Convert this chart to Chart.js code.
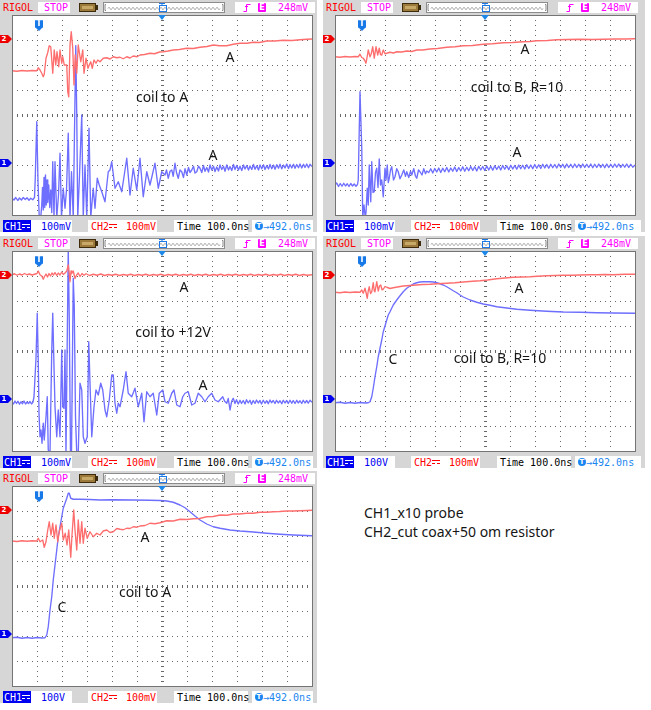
<!DOCTYPE html>
<html>
<head>
<meta charset="utf-8">
<script src="https://cdn.jsdelivr.net/npm/chart.js@4.4.1/dist/chart.umd.min.js"></script>
<style>
  html, body { margin: 0; padding: 0; background: #fff; }
  body { width: 651px; height: 710px; position: relative; overflow: hidden; }
  .scope { position: absolute; height: 232px; background: #d6d6d6; }
  .scope > canvas { position: absolute; left: 0; top: 14px; }
  .t { position: absolute; font: 10px/11px "DejaVu Sans Mono", monospace; white-space: nowrap; }
  .box { position: absolute; background: #fff; }
  .rigol { left: 3px; top: 2px; color: #f00; }
  .stop { left: 38px; top: 2px; width: 32px; height: 11px; }
  .stop span { left: 6px; top: 0; color: #f0f; }
  .batt { position: absolute; left: 79px; top: 3px; width: 17px; height: 9px; box-sizing: border-box;
          border: 1px solid #3e2c0c; background: #9c7a3c; }
  .batt i { position: absolute; left: 2px; top: 2px; width: 11px; height: 3px; background: #c8a866; }
  .nub { position: absolute; left: 96px; top: 5px; width: 2px; height: 5px; background: #3e2c0c; }
  .wave { left: 103px; top: 2px; width: 122px; height: 11px; box-sizing: border-box; border: 1px solid #8c8c8c; }
  .wave svg { position: absolute; left: 0; top: 0; }
  .trig { left: 235px; top: 2px; width: 80px; height: 11px; }
  .trig svg { position: absolute; left: 8px; top: 1px; }
  .ebox { position: absolute; left: 23px; top: 1px; width: 8px; height: 9px; background: #f0f; color: #fff;
          font: bold 8px/9px "DejaVu Sans", sans-serif; text-align: center; border-radius: 1px; }
  .tv { left: 43px; top: 0; color: #f0f; }
  .fb { top: 220px; height: 12px; }
  .fb .t { top: 1px; }
  .f1 { left: 3px; width: 69px; }
  .ch1tag { position: absolute; left: 0; top: 0; width: 28px; height: 12px; background: #0000f0; }
  .ch1tag .t { left: 1px; color: #fff; }
  .dc { position: absolute; top: 4px; width: 8px; height: 2px; box-sizing: content-box; }
  .ch1tag .dc { left: 19px; border-top: 1px solid #fff; border-bottom: 1px dashed #fff; }
  .v1 { left: 38px; color: #0000f0; }
  .f2 { left: 88px; width: 69px; }
  .f2 .c2 { left: 3px; color: #f00; }
  .f2 .dc { left: 21px; border-top: 1px solid #f00; border-bottom: 1px dashed #f00; }
  .v2 { left: 38px; color: #f00; }
  .f3 { left: 174px; width: 74px; }
  .f3 .t { left: 3px; color: #000; }
  .f4 { left: 252px; }
  .tc { position: absolute; left: 3px; top: 2px; width: 8px; height: 8px; border-radius: 50%; background: #1a86f0; color: #fff;
        font: bold 7px/8px "DejaVu Sans", sans-serif; text-align: center; }
  .f4 .t { left: 11px; color: #1a86f0; }
  .chm { position: absolute; left: 0; width: 8px; height: 8px; color: #fff; font: bold 7px/8px "DejaVu Sans", sans-serif; text-align: center; }
  .chm::after { content: ""; position: absolute; left: 8px; top: 0; border-top: 4px solid transparent; border-bottom: 4px solid transparent; border-left: 4px solid; }
  .chm.c1 { background: #0000ee; } .chm.c1::after { border-left-color: #0000ee; }
  .chm.c2 { background: #ee0000; } .chm.c2::after { border-left-color: #ee0000; }
  .tmk { position: absolute; width: 8px; height: 8px; background: #1778e8; color: #fff; border-radius: 1px;
         font: bold 8px/8px "DejaVu Sans", sans-serif; text-align: center; }
  .tmk::after { content: ""; position: absolute; left: 1px; top: 8px; border-left: 3px solid transparent; border-right: 3px solid transparent; border-top: 3px solid #1778e8; }
  .cmk { position: absolute; width: 0; height: 0; border-left: 4px solid transparent; border-right: 4px solid transparent; border-top: 5px solid #1e88e8; }
  .note { position: absolute; font: 14px/16px "Noto Sans", sans-serif; color: #151515; white-space: nowrap; transform: translate(-50%, -50%); }
  .legend { position: absolute; left: 364px; top: 503px; font: 14px/19px "Noto Sans", sans-serif; color: #151515; white-space: nowrap; }
</style>
</head>
<body>
<div class="legend">CH1_x10 probe<br>CH2_cut coax+50 om resistor</div>
<script>
// time axis in ns (100 ns/div, 12 div), vertical axis in divisions (8 div)
const timeMin = -600, timeMax = 600;
const divMin = -4, divMax = 4;
const trigPos = -492;
const ch2Offset = 3.04, ch1Offset = -1.93;

const ch1Scales = ["100mV", "100mV", "100mV", "100V", "100V"];
const ch2Scale = "100mV";
const timeBase = "100.0ns";
const trigDelay = "492.0ns";
const trigLevel = "248mV";

// panel 1: coil to A
const p1Ch2 = [[-600,1.77],[-580,1.75],[-560,1.78],[-540,1.76],[-520,1.78],[-501,1.77],[-495,1.89],[-488,1.8],[-481,1.67],[-475,1.53],[-471,1.63],[-464,2.27],[-457,2.5],[-451,2.77],[-445,2.73],[-437,1.67],[-431,2.6],[-425,2.0],[-420,2.53],[-413,1.93],[-408,2.6],[-401,2.07],[-397,2.33],[-391,2.0],[-381,2.0],[-377,0.93],[-373,0.73],[-368,2.8],[-363,3.33],[-357,2.67],[-352,1.2],[-347,2.4],[-341,1.67],[-335,2.8],[-325,2.13],[-317,2.6],[-312,1.67],[-304,2.27],[-296,1.87],[-291,2.0],[-285,2.13],[-279,1.87],[-272,2.2],[-264,2.07],[-257,2.2],[-248,2.13],[-235,2.27],[-221,2.29],[-208,2.24],[-195,2.33],[-181,2.29],[-168,2.31],[-155,2.25],[-141,2.33],[-128,2.28],[-115,2.36],[-100,2.33],[-88,2.4],[-70,2.42],[-48,2.47],[-30,2.45],[-10,2.52],[5,2.53],[25,2.56],[45,2.6],[70,2.62],[99,2.67],[125,2.66],[152,2.71],[180,2.74],[205,2.8],[230,2.77],[259,2.77],[285,2.83],[312,2.87],[340,2.87],[365,2.91],[390,2.9],[419,2.96],[450,2.96],[485,2.99],[520,2.98],[552,3.01],[580,3.03],[600,3.04]];
const p1Ch1 = [[-600,-3.33],[-592,-3.4],[-585,-3.3],[-577,-3.42],[-570,-3.32],[-562,-3.4],[-555,-3.3],[-547,-3.38],[-540,-3.31],[-532,-3.41],[-525,-3.33],[-517,-3.39],[-510,-3.3],[-507,-2.53],[-501,-0.27],[-496,-2.67],[-491,-4.1],[-485,-4.1],[-481,-3.6],[-478,-2.9],[-475,-3.8],[-472,-2.5],[-469,-3.7],[-466,-2.4],[-463,-3.6],[-460,-2.6],[-457,-3.5],[-453,-2.8],[-449,-3.7],[-445,-3.0],[-441,-3.9],[-437,-1.87],[-432,-4.1],[-428,-1.87],[-421,-4.1],[-414,-3.2],[-408,-1.53],[-402,-4.1],[-395,-2.93],[-388,-3.73],[-382,-3.0],[-375,-0.73],[-368,-4.1],[-362,-2.27],[-355,-4.1],[-345,2.77],[-341,0],[-337,-4.1],[-331,-2.67],[-321,0],[-315,-4.1],[-308,-2.0],[-301,-4.1],[-292,-0.53],[-285,-4.1],[-275,-2.93],[-268,-3.73],[-259,-2.53],[-251,-2.8],[-241,-3.07],[-228,-3.47],[-215,-2.27],[-208,-2.2],[-201,-1.87],[-188,-2.93],[-175,-2.67],[-161,-3.07],[-141,-1.73],[-128,-3.2],[-115,-2.13],[-101,-3.0],[-88,-1.73],[-75,-3.27],[-61,-2.27],[-48,-2.8],[-28,-1.93],[-15,-2.93],[-1,-2.27],[12,-2.4],[18,-2.2],[25,-2.53],[32,-2.25],[39,-2.2],[45,-2.45],[52,-1.93],[58,-2.3],[65,-2.53],[72,-2.2],[79,-2.27],[86,-2.5],[92,-2.15],[99,-2.4],[106,-2.1],[112,-2.3],[119,-2.2],[126,-2.05],[132,-2.32],[139,-2.27],[146,-2.05],[152,-2.13],[159,-2.3],[166,-2.02],[172,-2.25],[179,-2.1],[186,-2.28],[192,-2.0],[199,-2.2],[206,-2.05],[212,-2.26],[219,-2.08],[226,-2.24],[232,-2.0],[239,-2.18],[246,-2.05],[252,-2.25],[259,-2.0],[266,-2.2],[272,-2.06],[279,-2.22],[286,-1.98],[292,-2.18],[299,-2.02],[306,-2.2],[312,-2.05],[319,-2.22],[326,-2.0],[332,-2.16],[339,-2.02],[346,-2.2],[352,-2.04],[359,-2.18],[366,-1.98],[372,-2.17],[379,-2.03],[386,-2.2],[392,-2.0],[399,-2.15],[406,-1.99],[412,-2.18],[419,-2.02],[426,-2.16],[432,-1.98],[439,-2.15],[446,-2.0],[452,-2.17],[459,-1.99],[466,-2.13],[472,-1.97],[479,-2.15],[486,-2.0],[492,-2.12],[499,-1.96],[506,-2.14],[512,-1.98],[519,-2.12],[526,-1.97],[532,-2.13],[539,-1.98],[546,-2.11],[552,-1.96],[559,-2.12],[566,-1.97],[572,-2.1],[579,-1.96],[586,-2.11],[592,-1.97],[600,-2.06]];
const p1Notes = [["A", 272, 2.32], ["coil to A", 0, 0.72], ["A", 204, -1.6]];

// panel 2: coil to B, R=10
const p2Ch2 = [[-600,2.33],[-580,2.31],[-560,2.34],[-540,2.32],[-520,2.34],[-507,2.33],[-500,2.43],[-493,2.3],[-487,2.27],[-482,2.2],[-476,2.07],[-471,2.35],[-467,2.6],[-460,2.33],[-455,2.45],[-449,2.73],[-443,2.27],[-436,2.73],[-429,2.4],[-423,2.67],[-418,2.42],[-413,2.4],[-407,2.6],[-400,2.45],[-393,2.47],[-380,2.51],[-366,2.48],[-353,2.53],[-333,2.52],[-313,2.56],[-293,2.54],[-273,2.6],[-250,2.6],[-220,2.64],[-190,2.66],[-153,2.71],[-120,2.73],[-87,2.77],[-50,2.78],[-7,2.83],[30,2.85],[73,2.89],[110,2.9],[153,2.93],[180,2.94],[207,2.97],[250,2.98],[287,3.01],[330,3.02],[380,3.03],[430,3.02],[473,3.03],[520,3.04],[560,3.04],[600,3.05]];
const p2Ch1 = [[-600,-2.8],[-593,-2.72],[-586,-2.86],[-579,-2.74],[-572,-2.85],[-565,-2.73],[-558,-2.84],[-551,-2.75],[-544,-2.86],[-537,-2.74],[-530,-2.84],[-523,-2.76],[-516,-2.85],[-510,-2.78],[-507,-2.6],[-500,0.93],[-493,-1.33],[-489,-4.1],[-484,-3.6],[-479,-4.1],[-476,-3.9],[-471,-2.93],[-467,-3.6],[-463,-2.0],[-457,-3.47],[-453,-1.87],[-448,-3.1],[-443,-3.07],[-438,-2.3],[-433,-2.13],[-428,-2.9],[-423,-1.76],[-418,-2.8],[-413,-2.6],[-407,-3.27],[-400,-2.13],[-396,-2.6],[-391,-2.0],[-387,-2.7],[-383,-2.53],[-378,-2.2],[-373,-2.07],[-366,-2.6],[-360,-2.47],[-353,-2.15],[-347,-2.27],[-340,-2.55],[-333,-2.4],[-325,-2.2],[-318,-2.45],[-313,-2.27],[-305,-2.5],[-298,-2.25],[-293,-2.4],[-285,-2.15],[-278,-2.45],[-273,-2.53],[-266,-2.2],[-260,-2.27],[-252,-2.4],[-245,-2.15],[-238,-2.35],[-233,-2.24],[-225,-2.3],[-217,-2.15],[-209,-2.32],[-201,-2.14],[-193,-2.28],[-185,-2.12],[-177,-2.3],[-169,-2.13],[-161,-2.27],[-153,-2.1],[-145,-2.28],[-137,-2.12],[-129,-2.25],[-121,-2.08],[-113,-2.26],[-105,-2.1],[-97,-2.24],[-89,-2.07],[-81,-2.25],[-73,-2.09],[-65,-2.23],[-57,-2.06],[-49,-2.22],[-41,-2.07],[-33,-2.24],[-25,-2.05],[-17,-2.2],[-9,-2.06],[-1,-2.22],[7,-2.04],[15,-2.2],[23,-2.05],[31,-2.21],[39,-2.03],[47,-2.18],[55,-2.04],[63,-2.2],[71,-2.02],[79,-2.17],[87,-2.03],[95,-2.19],[103,-2.01],[111,-2.16],[119,-2.02],[127,-2.17],[135,-2.0],[143,-2.15],[151,-2.01],[159,-2.16],[167,-1.99],[175,-2.14],[183,-2.0],[191,-2.15],[199,-1.98],[207,-2.13],[215,-1.99],[223,-2.14],[231,-1.97],[239,-2.12],[247,-1.98],[255,-2.13],[263,-1.97],[271,-2.11],[279,-1.98],[287,-2.12],[295,-1.96],[303,-2.1],[311,-1.97],[319,-2.12],[327,-1.96],[335,-2.1],[343,-1.97],[351,-2.11],[359,-1.96],[367,-2.1],[375,-1.97],[383,-2.11],[391,-1.96],[399,-2.1],[407,-1.97],[415,-2.1],[423,-1.96],[431,-2.11],[439,-1.97],[447,-2.1],[455,-1.96],[463,-2.1],[471,-1.97],[479,-2.11],[487,-1.96],[495,-2.1],[503,-1.97],[511,-2.1],[519,-1.96],[527,-2.09],[535,-1.96],[543,-2.1],[551,-1.97],[559,-2.09],[567,-1.96],[575,-2.1],[583,-1.97],[591,-2.09],[600,-2.0]];
const p2Notes = [["A", 160, 2.64], ["coil to B, R=10", 128, 1.12], ["A", 128, -1.48]];

// panel 3: coil to +12V
const p3Ch2 = [[-600,3.05],[-590,3.09],[-580,3.03],[-570,3.08],[-560,3.04],[-550,3.1],[-540,3.05],[-530,3.08],[-520,3.04],[-510,3.07],[-500,3.1],[-495,3.2],[-488,3.05],[-481,3.0],[-475,2.87],[-470,2.98],[-464,3.08],[-458,2.96],[-452,3.1],[-446,3.0],[-440,3.12],[-434,3.04],[-428,3.14],[-421,3.02],[-415,3.12],[-408,3.04],[-401,3.16],[-395,3.06],[-388,3.12],[-381,3.2],[-375,3.44],[-371,3.1],[-368,2.77],[-364,3.2],[-361,3.1],[-355,3.2],[-348,2.9],[-341,3.05],[-335,3.12],[-328,2.98],[-320,3.1],[-312,3.03],[-304,3.09],[-290,3.02],[-275,3.07],[-260,3.03],[-245,3.08],[-230,3.02],[-215,3.06],[-200,3.03],[-185,3.07],[-170,3.02],[-155,3.06],[-140,3.03],[-125,3.07],[-110,3.02],[-95,3.06],[-80,3.03],[-65,3.07],[-50,3.02],[-35,3.06],[-20,3.03],[-5,3.07],[10,3.02],[25,3.06],[40,3.03],[55,3.07],[70,3.02],[85,3.06],[100,3.03],[115,3.07],[130,3.02],[145,3.06],[160,3.03],[175,3.07],[190,3.02],[205,3.06],[220,3.03],[235,3.07],[250,3.02],[265,3.06],[280,3.03],[295,3.07],[310,3.02],[325,3.06],[340,3.03],[355,3.07],[370,3.02],[385,3.06],[400,3.03],[415,3.07],[430,3.02],[445,3.06],[460,3.03],[475,3.07],[490,3.02],[505,3.06],[520,3.03],[535,3.07],[550,3.02],[565,3.06],[580,3.03],[600,3.05]];
const p3Ch1 = [[-600,-2.02],[-594,-2.12],[-588,-2.0],[-582,-2.1],[-576,-2.01],[-570,-2.13],[-564,-2.03],[-558,-2.11],[-552,-2.0],[-546,-2.12],[-540,-2.04],[-534,-2.1],[-528,-2.02],[-522,-2.12],[-516,-2.04],[-512,-1.83],[-504,-0.29],[-499,1.51],[-495,-0.36],[-492,-2.49],[-488,-3.43],[-484,-3.16],[-480,-3.69],[-475,-2.89],[-471,-3.56],[-464,-2.63],[-459,-1.83],[-455,-3.96],[-448,-4.1],[-441,0.04],[-437,1.51],[-432,-0.63],[-428,-2.23],[-421,-3.43],[-415,-2.36],[-408,-3.43],[-401,0.04],[-397,-2.23],[-392,-2.29],[-388,0.04],[-384,-4.1],[-375,4.1],[-371,1.37],[-366,-4.1],[-362,-4.1],[-355,2.91],[-351,1.8],[-346,-2.63],[-341,-4.1],[-335,-4.1],[-328,-1.29],[-321,-1.56],[-315,-3.43],[-308,-3.69],[-299,-3.43],[-293,0.37],[-288,-1.29],[-281,-3.43],[-272,-2.23],[-264,-1.56],[-255,-1.76],[-245,-1.29],[-237,-1.56],[-228,-2.36],[-221,-2.63],[-211,-1.96],[-201,-0.96],[-195,-0.96],[-188,-2.09],[-181,-2.49],[-175,-2.09],[-168,-2.23],[-155,-1.56],[-144,-0.83],[-135,-1.69],[-121,-1.83],[-108,-1.49],[-95,-2.23],[-81,-1.69],[-72,-2.83],[-61,-1.63],[-48,-1.83],[-35,-1.69],[-21,-2.56],[-11,-1.69],[3,-1.56],[12,-2.03],[25,-2.09],[39,-1.69],[48,-1.56],[59,-2.16],[72,-2.23],[83,-1.83],[92,-1.69],[105,-1.63],[119,-2.16],[132,-2.09],[145,-1.69],[159,-1.83],[172,-2.03],[185,-1.83],[199,-1.69],[212,-1.96],[225,-2.03],[243,-1.83],[250,-2.0],[259,-2.09],[265,-1.9],[272,-2.36],[279,-2.0],[285,-1.89],[292,-2.1],[298,-1.95],[305,-2.12],[312,-1.97],[318,-2.1],[325,-1.98],[332,-2.12],[338,-1.95],[345,-2.08],[352,-1.97],[358,-2.13],[365,-1.98],[372,-2.1],[378,-1.96],[385,-2.08],[392,-1.98],[398,-2.12],[405,-1.97],[412,-2.09],[419,-1.99],[425,-2.11],[432,-1.96],[438,-2.07],[445,-1.98],[452,-2.1],[458,-1.97],[465,-2.08],[472,-1.99],[479,-2.11],[485,-1.97],[492,-2.08],[499,-1.98],[505,-2.1],[512,-1.97],[519,-2.09],[525,-1.98],[532,-2.1],[539,-1.97],[545,-2.08],[552,-1.99],[559,-2.1],[565,-1.97],[572,-2.08],[579,-1.98],[585,-2.09],[592,-1.97],[600,-2.05]];
const p3Notes = [["A", 88, 2.56], ["coil to +12V", 44, 0.76], ["A", 164, -1.36]];

// panel 4: coil to B, R=10 (x10 probe on the coil)
const p4Ch2 = [[-600,2.35],[-580,2.33],[-560,2.36],[-540,2.34],[-520,2.36],[-500,2.35],[-493,2.44],[-487,2.31],[-480,2.51],[-475,2.3],[-471,2.11],[-467,2.4],[-463,2.57],[-458,2.3],[-453,2.37],[-447,2.73],[-443,2.4],[-440,2.37],[-433,2.77],[-427,2.4],[-422,2.6],[-417,2.64],[-412,2.45],[-407,2.47],[-400,2.58],[-393,2.55],[-380,2.5],[-367,2.53],[-350,2.56],[-327,2.6],[-300,2.62],[-273,2.64],[-250,2.66],[-220,2.67],[-190,2.69],[-153,2.71],[-120,2.73],[-87,2.76],[-50,2.79],[-20,2.81],[10,2.84],[47,2.89],[80,2.92],[113,2.95],[150,2.96],[180,2.97],[210,2.99],[247,3.01],[280,3.02],[313,3.03],[350,3.03],[380,3.04],[420,3.05],[447,3.05],[480,3.06],[513,3.05],[560,3.07],[600,3.07]];
const p4Ch1 = [[-600,-2.07],[-580,-2.05],[-560,-2.09],[-540,-2.06],[-520,-2.09],[-500,-2.06],[-480,-2.08],[-467,-2.07],[-460,-2.03],[-453,-1.83],[-447,-1.49],[-440,-1.03],[-433,-0.63],[-427,-0.23],[-420,0.11],[-413,0.44],[-407,0.77],[-400,1.0],[-393,1.24],[-387,1.44],[-380,1.57],[-367,1.84],[-353,2.04],[-340,2.21],[-327,2.37],[-313,2.51],[-300,2.6],[-287,2.68],[-273,2.73],[-260,2.76],[-247,2.77],[-233,2.77],[-220,2.77],[-207,2.76],[-193,2.73],[-180,2.69],[-167,2.64],[-153,2.57],[-140,2.49],[-127,2.41],[-113,2.33],[-100,2.24],[-87,2.16],[-60,2.04],[-33,1.95],[-7,1.88],[20,1.83],[47,1.77],[87,1.72],[127,1.67],[180,1.63],[247,1.59],[313,1.56],[380,1.55],[447,1.53],[513,1.52],[600,1.51]];
const p4Notes = [["A", 136, 2.52], ["C", -368, -0.32], ["coil to B, R=10", 60, -0.28]];

// panel 5: coil to A (x10 probe on the coil)
const p5Ch2 = [[-600,1.8],[-580,1.78],[-560,1.81],[-540,1.79],[-520,1.81],[-501,1.8],[-495,1.91],[-488,1.77],[-477,1.84],[-471,1.55],[-464,1.77],[-457,2.24],[-451,2.57],[-444,2.04],[-437,2.51],[-431,1.91],[-424,2.44],[-417,1.77],[-411,2.17],[-401,2.51],[-395,1.84],[-387,2.11],[-380,1.64],[-373,2.24],[-365,1.15],[-360,2.04],[-353,3.04],[-348,2.24],[-341,1.44],[-335,2.64],[-328,1.71],[-321,2.57],[-315,1.71],[-308,2.31],[-299,1.91],[-288,2.17],[-275,1.97],[-261,2.11],[-248,2.04],[-235,2.2],[-221,2.24],[-208,2.14],[-195,2.17],[-181,2.3],[-168,2.27],[-155,2.25],[-141,2.31],[-128,2.3],[-115,2.37],[-100,2.35],[-88,2.4],[-68,2.42],[-48,2.51],[-28,2.49],[-8,2.53],[19,2.61],[45,2.6],[72,2.67],[100,2.66],[125,2.69],[150,2.7],[179,2.77],[205,2.78],[232,2.84],[260,2.83],[285,2.88],[310,2.88],[339,2.91],[365,2.91],[392,2.95],[420,2.95],[445,2.97],[470,2.98],[499,3.0],[525,3.0],[552,3.01],[580,3.02],[600,3.03]];
const p5Ch1 = [[-600,-2.07],[-580,-2.05],[-560,-2.09],[-540,-2.06],[-520,-2.09],[-500,-2.06],[-480,-2.08],[-468,-2.07],[-461,-1.96],[-455,-1.63],[-448,-0.96],[-441,-0.43],[-435,0.24],[-428,0.84],[-421,1.44],[-415,1.97],[-408,2.37],[-401,2.77],[-395,3.11],[-388,3.31],[-381,3.51],[-375,3.71],[-371,3.71],[-365,3.51],[-355,3.47],[-328,3.47],[-290,3.46],[-248,3.44],[-200,3.45],[-115,3.44],[-50,3.43],[-8,3.42],[19,3.4],[45,3.35],[72,3.24],[92,3.13],[112,2.97],[132,2.8],[152,2.64],[179,2.48],[205,2.37],[232,2.31],[272,2.24],[312,2.2],[365,2.16],[419,2.11],[472,2.07],[525,2.04],[600,2.01]];
const p5Notes = [["A", -68, 1.96], ["coil to A", -68, -0.24], ["C", -400, -0.84]];

const RED = "#ff6e6e";
const BLUE = "#6e6eff";
const GRID = "#686868";
const FRAME = "#747474";

const panels = [
  { left: 0,   top: 0,   width: 317, ch1: p1Ch1, ch2: p1Ch2, notes: p1Notes },
  { left: 323, top: 0,   width: 322, ch1: p2Ch1, ch2: p2Ch2, notes: p2Notes },
  { left: 0,   top: 236, width: 317, ch1: p3Ch1, ch2: p3Ch2, notes: p3Notes },
  { left: 323, top: 236, width: 322, ch1: p4Ch1, ch2: p4Ch2, notes: p4Notes },
  { left: 0,   top: 471, width: 317, ch1: p5Ch1, ch2: p5Ch2, notes: p5Notes },
];

const scopePlugin = {
  id: "scope",
  beforeDraw(chart) {
    const { ctx, chartArea: a } = chart;
    ctx.save();
    ctx.fillStyle = "#fff";
    ctx.fillRect(a.left, a.top, a.right - a.left, a.bottom - a.top);
    ctx.restore();
  },
  beforeDatasetsDraw(chart) {
    // small ticks on the centre cross, 5 per division
    const { ctx, scales: { x, y } } = chart;
    const x0 = Math.round(x.getPixelForValue(0)) + 0.5;
    const y0 = Math.round(y.getPixelForValue(0)) + 0.5;
    ctx.save();
    ctx.strokeStyle = GRID;
    ctx.lineWidth = 1;
    ctx.beginPath();
    for (let t = timeMin; t <= timeMax; t += 20) {
      const px = Math.round(x.getPixelForValue(t)) + 0.5;
      ctx.moveTo(px, y0 - 1.5);
      ctx.lineTo(px, y0 + 1.5);
    }
    for (let k = 0; k <= 40; k++) {
      const py = Math.round(y.getPixelForValue(divMin + k * 0.2)) + 0.5;
      ctx.moveTo(x0 - 1.5, py);
      ctx.lineTo(x0 + 1.5, py);
    }
    ctx.stroke();
    ctx.restore();
  },
  afterDatasetsDraw(chart) {
    const { ctx, chartArea: a } = chart;
    ctx.save();
    ctx.strokeStyle = FRAME;
    ctx.lineWidth = 1;
    ctx.strokeRect(a.left + 0.5, a.top + 0.5, a.right - a.left, a.bottom - a.top);
    ctx.restore();
  }
};

function wavePath() {
  let d = "M4 5.5";
  for (let i = 0; i < 28; i++) d += " q1 -2.5 2 0 q1 2.5 2 0";
  return d;
}

function headerHtml() {
  return `
    <div class="t rigol">RIGOL</div>
    <div class="box stop"><span class="t">STOP</span></div>
    <div class="batt"><i></i></div><div class="nub"></div>
    <div class="box wave">
      <svg width="120" height="9" viewBox="0 0 120 9">
        <path d="M2 1.5 h-1 v6 h1 M118 1.5 h1 v6 h-1" stroke="#888" fill="none"/>
        <path d="${wavePath()}" stroke="#999" fill="none" stroke-width="0.9"/>
        <rect x="55.5" y="2.5" width="7" height="6" stroke="#1e78e6" fill="none"/>
        <path d="M55 0.5 h6 M58 0.5 v2" stroke="#1e78e6" fill="none"/>
      </svg>
    </div>
    <div class="box trig">
      <svg width="8" height="9" viewBox="0 0 8 9"><path d="M0.5 8.5 h3 v-7 h4 M2 4 l1.5 -1.5 l1.5 1.5" stroke="#f0f" fill="none"/></svg>
      <span class="ebox">E</span>
      <span class="t tv">${trigLevel}</span>
    </div>`;
}

function footerHtml(ch1Scale, w4) {
  return `
    <div class="box fb f1"><span class="ch1tag"><span class="t">CH1</span><i class="dc"></i></span><span class="t v1">${ch1Scale}</span></div>
    <div class="box fb f2"><span class="t c2">CH2</span><i class="dc"></i><span class="t v2">${ch2Scale}</span></div>
    <div class="box fb f3"><span class="t">Time ${timeBase}</span></div>
    <div class="box fb f4" style="width:${w4}px"><span class="tc">T</span><span class="t">→${trigDelay}</span></div>`;
}

function addDiv(parent, cls, text, left, top) {
  const d = document.createElement("div");
  d.className = cls;
  if (text) d.textContent = text;
  d.style.left = left + "px";
  d.style.top = top + "px";
  parent.appendChild(d);
  return d;
}

function buildPanel(p, idx) {
  const el = document.createElement("div");
  el.className = "scope";
  el.style.left = p.left + "px";
  el.style.top = p.top + "px";
  el.style.width = p.width + "px";
  el.innerHTML = headerHtml() + footerHtml(ch1Scales[idx], p.width - 256);
  const canvas = document.createElement("canvas");
  canvas.width = p.width;
  canvas.height = 203;
  el.appendChild(canvas);
  document.body.appendChild(el);

  const toXY = arr => arr.map(([x, y]) => ({ x, y }));
  const trace = (arr, color) => ({
    data: toXY(arr), borderColor: color, borderWidth: 1.35, pointRadius: 0,
    borderJoinStyle: "round", tension: 0, fill: false
  });

  const chart = new Chart(canvas, {
    type: "line",
    data: { datasets: [trace(p.ch2, RED), trace(p.ch1, BLUE)] },
    options: {
      responsive: false,
      animation: false,
      events: [],
      layout: { padding: { left: 12, top: 1, right: p.width - 312, bottom: 2 } },
      plugins: { legend: { display: false }, tooltip: { enabled: false } },
      scales: {
        x: {
          type: "linear", min: timeMin, max: timeMax,
          ticks: { display: false, stepSize: 100 },
          grid: { color: GRID, drawTicks: false, lineWidth: 1 },
          border: { display: false, dash: [1, 4] }
        },
        y: {
          type: "linear", min: divMin, max: divMax,
          ticks: { display: false, stepSize: 1 },
          grid: { color: GRID, drawTicks: false, lineWidth: 1 },
          border: { display: false, dash: [1, 4] }
        }
      }
    },
    plugins: [scopePlugin]
  });

  const cTop = 14;
  const xs = chart.scales.x, ys = chart.scales.y;
  addDiv(el, "chm c2", "2", 0, Math.round(cTop + ys.getPixelForValue(ch2Offset)) - 4);
  addDiv(el, "chm c1", "1", 0, Math.round(cTop + ys.getPixelForValue(ch1Offset)) - 4);
  addDiv(el, "tmk", "T", Math.round(xs.getPixelForValue(trigPos)) - 4, cTop + Math.round(ys.top) + 5);
  addDiv(el, "cmk", "", Math.round(xs.getPixelForValue(0)) - 4, cTop + Math.round(ys.top));
  p.notes.forEach(([text, t, v]) => {
    addDiv(el, "note", text, xs.getPixelForValue(t), cTop + ys.getPixelForValue(v));
  });
}

panels.forEach(buildPanel);
</script>
</body>
</html>
